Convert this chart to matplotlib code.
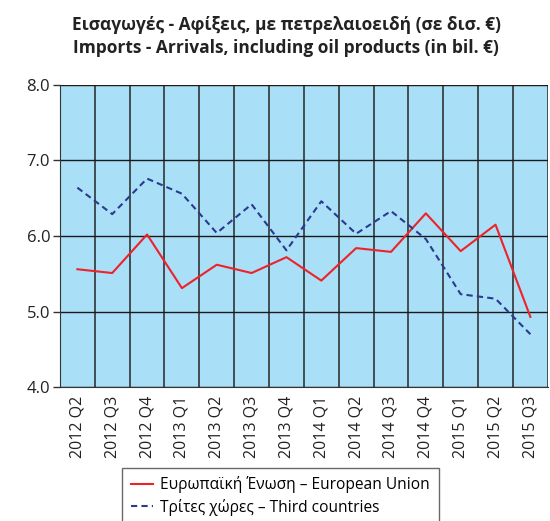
import numpy as np
import matplotlib.pyplot as plt

plt.rcParams['font.family'] = ['Open Sans', 'DejaVu Sans']

quarters = ['2012 Q2', '2012 Q3', '2012 Q4', '2013 Q1', '2013 Q2', '2013 Q3', '2013 Q4',
            '2014 Q1', '2014 Q2', '2014 Q3', '2014 Q4', '2015 Q1', '2015 Q2', '2015 Q3']
eu = [5.56, 5.51, 6.02, 5.31, 5.62, 5.51, 5.72, 5.41, 5.84, 5.79, 6.30, 5.80, 6.15, 4.93]
third = [6.64, 6.29, 6.76, 6.56, 6.04, 6.42, 5.81, 6.46, 6.03, 6.33, 5.96, 5.23, 5.17, 4.70]

fig = plt.figure(figsize=(5.5, 5.21), dpi=100)
ax = fig.add_axes([0.109, 0.257, 0.887, 0.580])
ax.set_facecolor('#aadff8')

x = np.arange(len(quarters))
ax.plot(x, eu, color='#ee2229', lw=1.5, label='Ευρωπαϊκή Ένωση – European Union')
ax.plot(x, third, color='#2b3990', lw=1.5, ls=(0, (3, 2)), label='Τρίτες χώρες – Third countries')

ax.set_xlim(-0.5, len(quarters) - 0.5)
ax.set_ylim(4.0, 8.0)
ax.set_yticks([4.0, 5.0, 6.0, 7.0, 8.0])
ax.set_yticklabels(['4.0', '5.0', '6.0', '7.0', '8.0'], fontsize=12, color='#222222')
ax.set_xticks(x)
ax.set_xticklabels(quarters, rotation=90, fontsize=11.5, color='#222222')
ax.tick_params(axis='x', length=0, pad=6)
ax.tick_params(axis='y', length=5, width=1, color='#333333', pad=2)

# grid lines between categories and at every unit
ax.set_xticks(np.arange(-0.5, len(quarters), 1), minor=True)
ax.tick_params(axis='x', which='minor', length=0)
ax.grid(True, which='minor', axis='x', color='#262626', lw=1.1)
ax.grid(True, which='major', axis='y', color='#1a1a1a', lw=1.0)
ax.set_axisbelow(True)
for s in ['top', 'right']:
    ax.spines[s].set_visible(False)
ax.spines['left'].set_color('#333333')
ax.spines['bottom'].set_color('#333333')

fig.text(0.52, 0.93, 'Εισαγωγές - Αφίξεις, με πετρελαιοειδή (σε δισ. €)\nImports - Arrivals, including oil products (in bil. €)',
         ha='center', va='center', fontsize=12.5, fontweight='bold', linespacing=1.35, color='#222222')

leg = fig.legend(loc='upper center', bbox_to_anchor=(0.51, 0.102), borderaxespad=0, fontsize=11.2,
                 frameon=True, fancybox=False, edgecolor='#444444', handlelength=1.4,
                 handletextpad=0.5, borderpad=0.55, labelspacing=0.35)
leg.get_frame().set_linewidth(1.0)

fig.savefig('out.png', dpi=100)
